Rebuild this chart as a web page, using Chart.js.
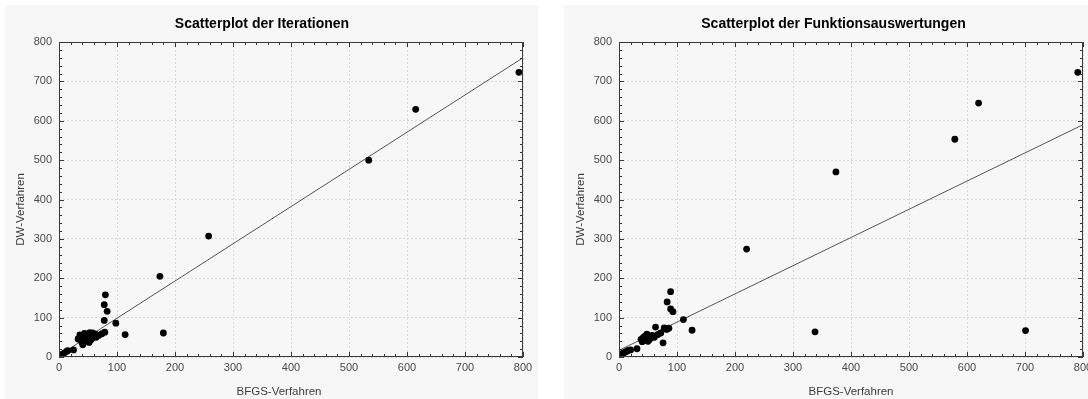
<!DOCTYPE html>
<html>
<head>
<meta charset="utf-8">
<script src="https://cdn.jsdelivr.net/npm/chart.js@4.4.1/dist/chart.umd.min.js"></script>
<style>
    html, body { margin: 0; padding: 0; background: #fff; overflow: hidden; }
    body { width: 1088px; height: 399px; position: relative; }
    .panel { position: absolute; top: 5px; bottom: 0; background: #f7f7f7; }
    #panel-left { left: 5px; width: 533px; }
    #panel-right { left: 564px; right: 0; }
    canvas { position: absolute; top: 0; }
    #iter-chart { left: 0; }
    #eval-chart { left: 560px; }
</style>
</head>
<body>
<div class="panel" id="panel-left"></div>
<div class="panel" id="panel-right"></div>
<canvas id="iter-chart" width="545" height="399"></canvas>
<canvas id="eval-chart" width="545" height="399"></canvas>
<script>
// Iterationen: BFGS-Verfahren (x) gegen DW-Verfahren (y)
const iterBfgs = [793, 615, 534, 258, 174, 180, 114, 98, 80, 78, 83, 78, 79, 74, 69, 64, 53, 58, 44, 50, 36, 40, 47, 52, 41, 36, 44, 55, 60, 48, 39, 57, 63, 33, 25, 15, 13, 9, 6, 3, 1];
const iterDw   = [723, 629, 500, 307, 205, 61, 57, 86, 158, 133, 116, 93, 63, 59, 55, 50, 62, 61, 52, 48, 44, 36, 40, 37, 31, 56, 60, 44, 52, 56, 48, 47, 58, 46, 18, 16, 14, 10, 7, 3, 1];
const iterFitX = [0, 800];
const iterFitY = [4, 760];

// Funktionsauswertungen
const evalBfgs = [791, 620, 579, 701, 374, 220, 338, 126, 111, 89, 83, 89, 93, 78, 82, 86, 76, 63, 67, 72, 48, 53, 38, 44, 50, 55, 61, 42, 47, 40, 52, 57, 45, 31, 20, 13, 7, 4, 1, 16, 10];
const evalDw   = [723, 645, 553, 67, 470, 274, 64, 68, 95, 166, 140, 122, 115, 74, 70, 73, 36, 76, 57, 61, 58, 52, 45, 43, 40, 48, 50, 50, 47, 39, 44, 55, 53, 21, 18, 14, 10, 6, 2, 17, 12];
const evalFitX = [0, 800];
const evalFitY = [17, 590];

const axisTicks = [0, 100, 200, 300, 400, 500, 600, 700, 800];
const minorStep = 20;

const FONT = '"Liberation Sans", Arial, sans-serif';

// frame, inward tick marks and titles (Statistica style)
const framePlugin = {
    id: 'frame',
    afterDraw(chart, args, opts) {
        const { ctx, chartArea: a, scales: { x, y } } = chart;
        ctx.save();
        ctx.strokeStyle = '#3a3a3a';
        ctx.lineWidth = 1;
        ctx.strokeRect(a.left + 0.5, a.top + 0.5, a.right - a.left - 1, a.bottom - a.top - 1);

        ctx.beginPath();
        for (let v = x.min; v <= x.max; v += minorStep) {
            const len = v % 100 === 0 ? 5 : 3;
            const px = Math.round(x.getPixelForValue(v)) + 0.5;
            ctx.moveTo(px, a.bottom); ctx.lineTo(px, a.bottom - len);
            ctx.moveTo(px, a.top); ctx.lineTo(px, a.top + len);
        }
        for (let v = y.min; v <= y.max; v += minorStep) {
            const len = v % 100 === 0 ? 5 : 3;
            const py = Math.round(y.getPixelForValue(v)) + 0.5;
            ctx.moveTo(a.left, py); ctx.lineTo(a.left + len, py);
            ctx.moveTo(a.right, py); ctx.lineTo(a.right - len, py);
        }
        ctx.stroke();

        const cx = (a.left + a.right) / 2;
        const cy = (a.top + a.bottom) / 2;
        ctx.fillStyle = '#000';
        ctx.textAlign = 'center';
        ctx.textBaseline = 'middle';
        ctx.font = `bold 14px ${FONT}`;
        ctx.fillText(opts.title, cx + opts.titleDx, 24);

        ctx.fillStyle = '#3c3c3c';
        ctx.font = `11.5px ${FONT}`;
        ctx.fillText(opts.xTitle, cx + opts.xTitleDx, a.bottom + 35);

        ctx.translate(a.left - 38, cy + opts.yTitleDy);
        ctx.rotate(-Math.PI / 2);
        ctx.fillText(opts.yTitle, 0, 0);
        ctx.restore();
    }
};

function axis(fit) {
    return {
        type: 'linear',
        min: 0,
        max: 800,
        afterBuildTicks: (s) => { s.ticks = axisTicks.map(v => ({ value: v })); },
        afterFit: fit,
        grid: { color: '#dadada', drawTicks: false },
        border: { display: false, dash: [2, 2] },
        ticks: { color: '#4a4a4a', font: { family: FONT, size: 11 }, maxRotation: 0, autoSkip: false }
    };
}

function buildScatter(canvasId, xs, ys, fitX, fitY, labels) {
    const points = xs.map((x, i) => ({ x, y: ys[i] }));
    const fit = fitX.map((x, i) => ({ x, y: fitY[i] }));
    const xAxis = axis((s) => { s.height = 42; });
    xAxis.ticks.padding = 4;
    const yAxis = axis((s) => { s.width = 58; });
    yAxis.ticks.padding = 7;

    return new Chart(document.getElementById(canvasId), {
        type: 'scatter',
        data: {
            datasets: [
                { data: points, backgroundColor: '#000', borderWidth: 0, pointRadius: 3.4, order: 1 },
                { data: fit, showLine: true, borderColor: '#555', borderWidth: 1, pointRadius: 0, order: 2 }
            ]
        },
        options: {
            responsive: false,
            animation: false,
            layout: { padding: { left: 1, right: 22, top: 42, bottom: 0 } },
            plugins: {
                legend: { display: false },
                tooltip: { enabled: false },
                frame: labels
            },
            scales: { x: xAxis, y: yAxis }
        },
        plugins: [framePlugin]
    });
}

buildScatter('iter-chart', iterBfgs, iterDw, iterFitX, iterFitY, {
    title: 'Scatterplot der Iterationen', titleDx: -29,
    xTitle: 'BFGS-Verfahren', xTitleDx: -12,
    yTitle: 'DW-Verfahren', yTitleDy: 10
});
buildScatter('eval-chart', evalBfgs, evalDw, evalFitX, evalFitY, {
    title: 'Scatterplot der Funktionsauswertungen', titleDx: -17.5,
    xTitle: 'BFGS-Verfahren', xTitleDx: 0,
    yTitle: 'DW-Verfahren', yTitleDy: 10
});
</script>
</body>
</html>
